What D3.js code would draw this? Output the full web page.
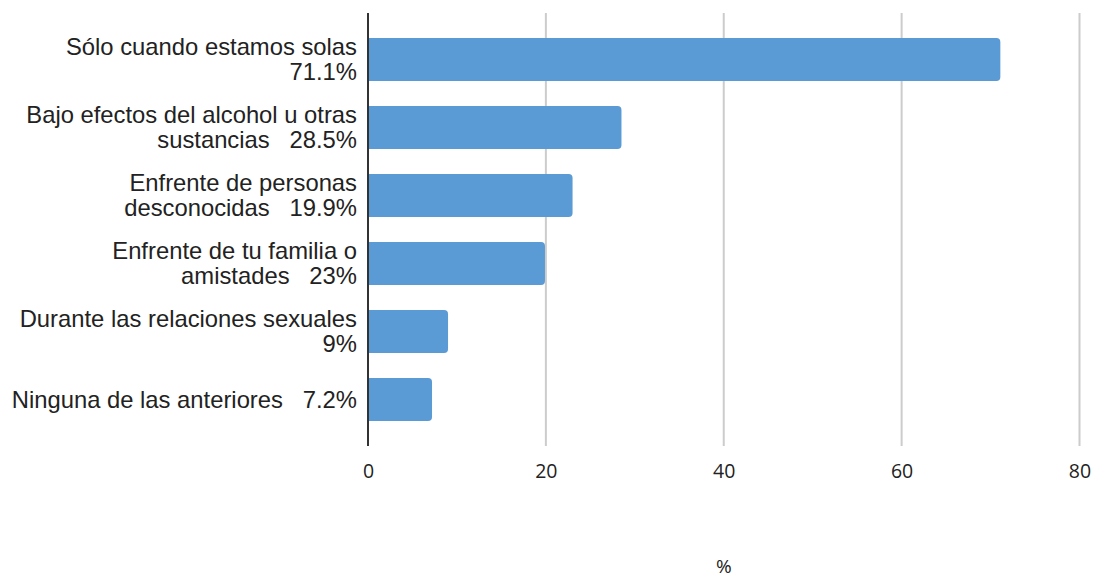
<!DOCTYPE html>
<html>
<head>
<meta charset="utf-8">
<script src="https://cdn.jsdelivr.net/npm/d3@7"></script>
<style>
  html, body { margin: 0; padding: 0; background: #fff; }
  svg { display: block; }
</style>
</head>
<body>
<svg id="chart" width="1093" height="580"></svg>
<script>
// Category labels (as lines), bar values, axis ticks
const categories = [
  ["Sólo cuando estamos solas", "71.1%"],
  ["Bajo efectos del alcohol u otras", "sustancias   28.5%"],
  ["Enfrente de personas", "desconocidas   19.9%"],
  ["Enfrente de tu familia o", "amistades   23%"],
  ["Durante las relaciones sexuales", "9%"],
  ["Ninguna de las anteriores   7.2%"]
];
const values = [71.1, 28.5, 23, 19.9, 9, 7.2];
const xTicks = [0, 20, 40, 60, 80];
const xAxisTitle = "%";

(function () {
const svg = d3.select("#chart");
const pLeft = 368, pRight = 1079.5, pTop = 13, pBottom = 446;

const x = d3.scaleLinear().domain([0, 80]).range([pLeft, pRight]);
const y = d3.scaleBand()
  .domain(d3.range(categories.length))
  .range([25.5, 433.5])
  .paddingInner(0.368)
  .paddingOuter(0.184);

// gridlines
svg.append("g").selectAll("line")
  .data(xTicks.filter(d => d !== 0))
  .join("line")
  .attr("x1", d => x(d)).attr("x2", d => x(d))
  .attr("y1", pTop).attr("y2", pBottom)
  .attr("stroke", "#cccccc").attr("stroke-width", 2);

// bars with rounded right end
const r = 4;
svg.append("g").selectAll("path")
  .data(values)
  .join("path")
  .attr("fill", "#5b9bd5")
  .attr("d", (d, i) => {
    const x0 = x(0), x1 = x(d), y0 = y(i), h = y.bandwidth();
    return `M${x0},${y0} H${x1 - r} Q${x1},${y0} ${x1},${y0 + r} V${y0 + h - r} Q${x1},${y0 + h} ${x1 - r},${y0 + h} H${x0} Z`;
  });

// baseline axis
svg.append("line")
  .attr("x1", x(0)).attr("x2", x(0))
  .attr("y1", pTop).attr("y2", pBottom)
  .attr("stroke", "#333333").attr("stroke-width", 2);

// x tick labels
const xAxis = d3.axisBottom(x).tickValues(xTicks).tickSize(0).tickPadding(0);
const gx = svg.append("g").attr("transform", `translate(0,${pBottom})`).call(xAxis);
gx.select(".domain").remove();
gx.selectAll("text")
  .attr("y", 25).attr("dy", "0.35em")
  .attr("fill", "#222")
  .style("font-family", "'Open Sans', sans-serif")
  .style("font-size", "19.5px");

// category labels
const lineH = 24.7;
const lg = svg.append("g")
  .style("font-family", "Arial, 'Liberation Sans', sans-serif")
  .style("font-size", "23.8px")
  .attr("fill", "#222");
categories.forEach((lines, i) => {
  const cy = y(i) + y.bandwidth() / 2;
  const t = lg.append("text")
    .attr("text-anchor", "end")
    .attr("xml:space", "preserve")
    .style("white-space", "pre");
  const n = lines.length;
  lines.forEach((ln, j) => {
    t.append("tspan")
      .attr("x", 357)
      .attr("y", cy + (j - (n - 1) / 2) * lineH)
      .attr("dy", "0.35em")
      .text(ln);
  });
});

// x axis title
svg.append("text")
  .attr("x", x(40)).attr("y", 566)
  .attr("dy", "0.35em")
  .attr("text-anchor", "middle")
  .attr("fill", "#222")
  .style("font-family", "'Open Sans', sans-serif")
  .style("font-size", "19px")
  .text(xAxisTitle);
})();
</script>
</body>
</html>
